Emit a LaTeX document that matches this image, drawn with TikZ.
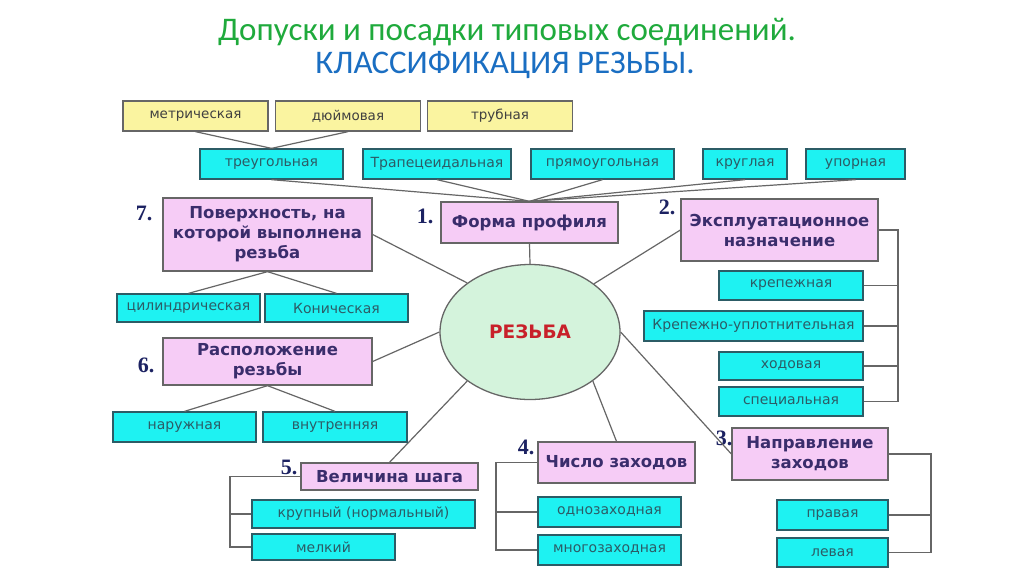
\documentclass[tikz,border=0pt]{standalone}
\usepackage{fontspec}
\setmainfont{DejaVu Sans}
\newfontfamily\titlefont{Carlito}
\newfontfamily\numfont{Liberation Serif}
\definecolor{pinkfill}{HTML}{F6CCF6}
\definecolor{cyanfill}{HTML}{1EF2F2}
\definecolor{yellowfill}{HTML}{FAF4A0}
\definecolor{ovalfill}{HTML}{D4F3DC}
\definecolor{linegray}{HTML}{666666}
\definecolor{pinktext}{HTML}{3A2D6C}
\definecolor{cyantext}{HTML}{2C5C66}
\definecolor{numblue}{HTML}{1C2262}
\definecolor{titlegreen}{HTML}{1FAA3C}
\definecolor{titleblue}{HTML}{1A6EC2}
\definecolor{rezred}{HTML}{C8202A}
\usetikzlibrary{shapes.geometric}
\begin{document}
\begin{tikzpicture}[x=1pt,y=-1pt,
    link/.style={draw=linegray, line width=1.2pt},
    pinkbox/.style 2 args={draw=linegray, fill=pinkfill, line width=1.3pt, inner sep=0pt,
        minimum width=#1, minimum height=#2, align=center, text=pinktext,
        font=\fontsize{16.5}{20}\selectfont\bfseries},
    cyanbox/.style 2 args={draw=cyantext, fill=cyanfill, line width=1.3pt, inner sep=0pt,
        minimum width=#1, minimum height=#2, text=cyantext,
        font=\fontsize{14}{16}\selectfont},
    yellowbox/.style={draw=linegray, fill=yellowfill, line width=1.3pt, inner sep=0pt,
        minimum width=145pt, minimum height=30pt, text=black!75,
        font=\fontsize{13.5}{16}\selectfont},
    num/.style={text=numblue, font=\fontsize{22}{22}\selectfont\numfont\bfseries},
    heading/.style={anchor=base, inner sep=0pt, font=\fontsize{33}{36}\selectfont\titlefont}]
    \useasboundingbox[fill=white] (0,0) rectangle (1024,574);

    % Title
    \node[heading, text=titlegreen] (title1) at (507,40) {Допуски и посадки типовых соединений.};
    \node[heading, text=titleblue] (title2) at (505,73) {КЛАССИФИКАЦИЯ РЕЗЬБЫ.};

    % Centre
    \node[ellipse, draw=linegray, fill=ovalfill, line width=1.3pt, minimum width=180pt,
        minimum height=135pt, text=rezred, font=\fontsize{18.5}{20}\selectfont\bfseries]
        (rez) at (530,332) {РЕЗЬБА};

    % 1. Form of profile
    \node[pinkbox={177pt}{41pt}] (forma) at (529.5,222.5) {Форма профиля};
    \node[num] (n1) at (425,216) {1.};
    \node[cyanbox={143pt}{30pt}] (treug) at (271.5,164) {треугольная};
    \node[cyanbox={148pt}{30pt}] (trap) at (437,164) {Трапецеидальная};
    \node[cyanbox={143pt}{30pt}] (pryam) at (602.5,164) {прямоугольная};
    \node[cyanbox={84pt}{30pt}] (krug) at (745,164) {круглая};
    \node[cyanbox={99pt}{30pt}] (upor) at (855.5,164) {упорная};
    \node[yellowbox] (metr) at (195.5,116) {метрическая};
    \node[yellowbox] (duim) at (348,116) {дюймовая};
    \node[yellowbox] (trub) at (500,116) {трубная};
    \draw[link] (metr.south) -- (treug.north);
    \draw[link] (duim.south) -- (treug.north);
    \foreach \k in {treug,trap,pryam,krug,upor}
        \draw[link] (\k.south) -- (forma.north);
    \draw[link] (forma.south) -- (rez.north);

    % 2. Purpose
    \node[pinkbox={197pt}{62pt}] (ekspl) at (779.5,230) {Эксплуатационное\\назначение};
    \node[num] (n2) at (667,207) {2.};
    \node[cyanbox={144pt}{29pt}] (krep) at (791,285.5) {крепежная};
    \node[cyanbox={219pt}{30pt}] (krupl) at (753.5,326) {Крепежно-уплотнительная};
    \node[cyanbox={144pt}{28pt}] (hod) at (791,366) {ходовая};
    \node[cyanbox={144pt}{29pt}] (spec) at (791,401.5) {специальная};
    \coordinate (b2) at (898,401.5);
    \draw[link] (ekspl.east) -| (b2) -- (spec.east);
    \foreach \k in {krep,krupl,hod}
        \draw[link] (\k.east) -- (\k.east -| b2);
    \draw[link] (rez.37) -- (ekspl.west);

    % 3. Direction
    \node[pinkbox={156pt}{52pt}] (napr) at (810,454) {Направление\\заходов};
    \node[num] (n3) at (724,438) {3.};
    \node[cyanbox={111pt}{30pt}] (prav) at (832.5,515) {правая};
    \node[cyanbox={111pt}{29pt}] (lev) at (832.5,552.5) {левая};
    \coordinate (b3) at (931,552.5);
    \draw[link] (napr.east) -| (b3) -- (lev.east);
    \draw[link] (prav.east) -- (prav.east -| b3);
    \draw[link] (rez.east) -- (napr.west);

    % 4. Number of starts
    \node[pinkbox={157pt}{41pt}] (chislo) at (616.5,462.5) {Число заходов};
    \node[num] (n4) at (526,447) {4.};
    \node[cyanbox={143pt}{30pt}] (odno) at (609.5,512) {однозаходная};
    \node[cyanbox={143pt}{30pt}] (mnogo) at (609.5,550) {многозаходная};
    \coordinate (b4) at (496,550);
    \draw[link] (chislo.west) -| (b4) -- (mnogo.west);
    \draw[link] (odno.west) -- (odno.west -| b4);
    \draw[link] (rez.322) -- (chislo.north);

    % 5. Pitch
    \node[pinkbox={177pt}{27pt}] (shag) at (389.5,476.5) {Величина шага};
    \node[num] (n5) at (289,467) {5.};
    \node[cyanbox={223pt}{28pt}] (krupn) at (363.5,514) {крупный (нормальный)};
    \node[cyanbox={143pt}{26pt}] (melk) at (323.5,547) {мелкий};
    \coordinate (b5) at (230,547);
    \draw[link] (shag.west) -| (b5) -- (melk.west);
    \draw[link] (krupn.west) -- (krupn.west -| b5);
    \draw[link] (rez.218) -- (shag.north);

    % 6. Location
    \node[pinkbox={209pt}{47pt}] (rasp) at (267.5,361.5) {Расположение\\резьбы};
    \node[num] (n6) at (146,365) {6.};
    \node[cyanbox={143pt}{30pt}] (naruzh) at (184.5,427) {наружная};
    \node[cyanbox={144pt}{30pt}] (vnutr) at (335,427) {внутренняя};
    \draw[link] (rasp.south) -- (naruzh.north);
    \draw[link] (rasp.south) -- (vnutr.north);
    \draw[link] (rasp.east) -- (rez.west);

    % 7. Surface
    \node[pinkbox={209pt}{73pt}] (pov) at (267.5,234.5) {Поверхность, на\\которой выполнена\\резьба};
    \node[num] (n7) at (144,213) {7.};
    \node[cyanbox={143pt}{28pt}] (cyl) at (188.5,308) {цилиндрическая};
    \node[cyanbox={143pt}{28pt}] (kon) at (336.5,308) {Коническая};
    \draw[link] (pov.south) -- (cyl.north);
    \draw[link] (pov.south) -- (kon.north);
    \draw[link] (pov.east) -- (rez.142);
\end{tikzpicture}
\end{document}
